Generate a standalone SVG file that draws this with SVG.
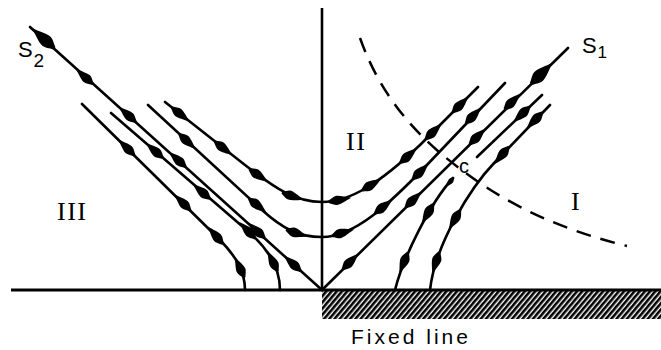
<svg xmlns="http://www.w3.org/2000/svg" width="661" height="350" viewBox="0 0 661 350">
<defs>
<style>
.ln{fill:none;stroke:#000;stroke-width:2.6;stroke-linecap:round;stroke-linejoin:round}
.ax{fill:none;stroke:#000}
.m{fill:none;stroke:none;marker-mid:url(#a)}
.mb{fill:none;stroke:none;marker-mid:url(#b)}
.ms{fill:none;stroke:none;marker-mid:url(#s)}
.dash{fill:none;stroke:#000;stroke-width:2.5;stroke-dasharray:15 10}
.sans{font-family:"Liberation Sans",Arial,sans-serif;fill:#000}
.serif{font-family:"Liberation Serif","Times New Roman",serif;fill:#000}
</style>
<marker id="a" markerUnits="userSpaceOnUse" viewBox="-15 -8 30 16" markerWidth="30" markerHeight="16" orient="auto" overflow="visible">
<path transform="scale(1.25)" d="M10,0 C5,-1.6 1,-3.7 -2,-3.7 C-4,-3.7 -6,-2 -8.5,-0.9 L-8.5,0.9 C-6,2 -4,3.7 -2,3.7 C1,3.7 5,1.6 10,0Z"/>
</marker>
<marker id="b" markerUnits="userSpaceOnUse" viewBox="-20 -10 40 20" markerWidth="40" markerHeight="20" orient="auto" overflow="visible">
<path transform="scale(1.65)" d="M10,0 C5,-1.6 1,-3.7 -2,-3.7 C-4,-3.7 -6,-2 -8.5,-0.9 L-8.5,0.9 C-6,2 -4,3.7 -2,3.7 C1,3.7 5,1.6 10,0Z"/>
</marker>
<marker id="s" markerUnits="userSpaceOnUse" viewBox="-8 -4 16 8" markerWidth="16" markerHeight="8" orient="auto" overflow="visible">
<path transform="scale(0.7)" d="M10,0 C5,-1.6 1,-3.7 -2,-3.7 C-4,-3.7 -6,-2 -8.5,-0.9 L-8.5,0.9 C-6,2 -4,3.7 -2,3.7 C1,3.7 5,1.6 10,0Z"/>
</marker>
<pattern id="hatch" patternUnits="userSpaceOnUse" width="4" height="10" patternTransform="rotate(40)">
<line x1="1.3" y1="-1" x2="1.3" y2="11" stroke="#000" stroke-width="2.6"/>
</pattern>
</defs>
<rect width="661" height="350" fill="#fff"/>

<g id="axes">
<rect x="322" y="291" width="339" height="28" fill="url(#hatch)"/>
<line class="ax" x1="322" y1="8" x2="322" y2="290" stroke-width="2.6"/>
<line class="ax" x1="11" y1="290" x2="661" y2="290" stroke-width="3.2"/>
</g>

<g id="nullcline">
<path class="dash" d="M360,38 C375,80 400,120 445,157 C480,185 530,222 627,246"/>
</g>

<g id="connectors">
<path id="S2" class="ln" d="M30,27 L322,290"/>
<path id="S1" class="ln" d="M568,48 L322,290"/>
<path id="U" class="ln" d="M478,87 L420,145 C380,183 350,202 322,202 C295,202 275,188 245,165 L165,102"/>
<path id="Lw" class="ln" d="M505,83 L425,167 C390,203 355,237 322,237 C298,237 282,228 262,210 L148,105"/>
<path id="L1" class="ln" d="M82,104 L218,238 C234,254 245,270 245,290"/>
<path id="L2" class="ln" d="M111,113 L250,233 C268,249 280,268 280,290"/>
<path id="R1" class="ln" d="M395,290 C403,258 430,203 453,178"/>
<path id="Ra" class="ln" d="M542,95 L477,157"/>
<path id="R2" class="ln" d="M550,105 L495,162 C470,188 435,245 430,290"/>
</g>

<g id="arrows">
<path class="m" d="M322,290 L293,264 L257,231 L178,160 L128,115 L85,77 L60,54"/>
<path class="mb" d="M60,54 L44,39 L30,27"/>
<path class="m" d="M322,290 L350,262 L413,200 L477,137 L512,102 L530,85"/>
<path class="mb" d="M530,85 L541,74 L568,48"/>
<path class="m" d="M165,102 L180,114 L223,148 L258,175 L292,196 L339,200 L371,185 L408,156 L433,132 L460,105 L478,87"/>
<path class="m" d="M148,105 L187,141 L257,205 L296,233 L342,233 L383,207 L420,172 L473,116 L505,83"/>
<path class="m" d="M245,290 L240,268 L216,236 L183,203 L127,148 L82,104"/>
<path class="m" d="M280,290 L273,262 L248,231 L202,192 L155,151 L111,113"/>
<path class="ms" d="M456,175 L450,182 L445,188"/>
<path class="m" d="M445,188 L428,213 L404,262 L395,290"/>
<path class="m" d="M542,95 L522,114 L500,135"/>
<path class="m" d="M550,105 L535,120 L502,155 L455,219 L436,262 L430,290"/>
</g>

<g id="labels">
<text class="sans" x="18" y="57" font-size="22">S</text>
<text class="sans" x="33.5" y="67" font-size="19">2</text>
<text class="sans" x="582" y="53" font-size="22">S</text>
<text class="sans" x="597.5" y="58" font-size="17">1</text>
<text class="serif" x="57" y="220" font-size="26" letter-spacing="1.5">III</text>
<text class="serif" x="346" y="150" font-size="26" letter-spacing="1.5">II</text>
<text class="serif" x="571" y="210" font-size="26">I</text>
<text class="sans" x="459" y="173" font-size="20">c</text>
<text class="sans" x="351" y="344" font-size="21" textLength="117" lengthAdjust="spacing">Fixed line</text>
</g>
</svg>
